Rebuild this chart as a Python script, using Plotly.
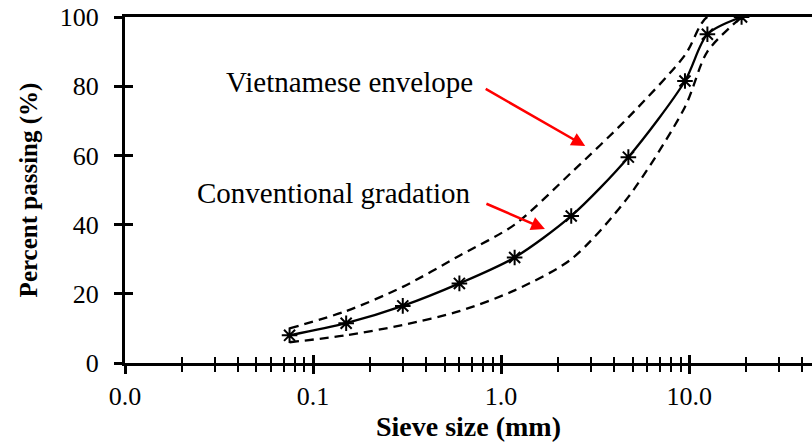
import math
import plotly.graph_objects as go

# Sieve sizes (mm) and percent passing
sieve_mm = [0.075, 0.15, 0.3, 0.6, 1.18, 2.36, 4.75, 9.5, 12.5, 19]
conventional = [8, 11.5, 16.5, 23, 30.5, 42.5, 59.5, 81.5, 95, 100]
upper_env = [10, 15, 22, 31, 40, 55, 71, 89, 100, 100]
lower_env = [6, 8, 11, 15, 21, 30, 48, 74, 90, 100]

# Axis ticks
x_major = [0.01, 0.1, 1, 10]
x_major_text = ["0.0", "0.1", "1.0", "10.0"]
x_minor = [m * d for d in [0.01, 0.1, 1, 10] for m in range(2, 10)]
y_ticks = [0, 20, 40, 60, 80, 100]

X_MIN, X_MAX = 0.01, 45
xr = [math.log10(X_MIN), math.log10(X_MAX)]
yr = [0, 100]

SERIF = "Liberation Serif"

fig = go.Figure()

line_style = dict(color="black", width=2.3, shape="spline", smoothing=0.8)

fig.add_trace(go.Scatter(x=sieve_mm, y=upper_env, mode="lines",
                         line=dict(dash="9px,6px", **line_style), showlegend=False))
fig.add_trace(go.Scatter(x=sieve_mm, y=lower_env, mode="lines",
                         line=dict(dash="9px,6px", **line_style), showlegend=False))
fig.add_trace(go.Scatter(x=sieve_mm, y=conventional, mode="lines+markers",
                         line=line_style,
                         marker=dict(symbol="asterisk-open", size=13, color="black",
                                     line=dict(color="black", width=2)),
                         showlegend=False))
# hidden trace so the overlay axes (inner half of the crossing ticks) render
fig.add_trace(go.Scatter(x=[X_MIN], y=[0], xaxis="x2", yaxis="y2", mode="markers",
                         marker=dict(opacity=0), showlegend=False, hoverinfo="skip"))

tick_font = dict(family=SERIF, size=26, color="black")

fig.update_layout(
    width=812, height=447,
    margin=dict(l=125, r=0, t=17, b=84),
    paper_bgcolor="white", plot_bgcolor="white",
    xaxis=dict(
        type="log", range=xr, showgrid=False, zeroline=False,
        showline=True, linecolor="black", linewidth=3, mirror=True,
        tickmode="array", tickvals=x_major, ticktext=x_major_text,
        ticks="outside", ticklen=8, tickwidth=3, tickcolor="black",
        minor=dict(tickmode="array", tickvals=x_minor, ticks="outside",
                   ticklen=6, tickwidth=2, tickcolor="black", showgrid=False),
        tickfont=tick_font,
        title=dict(text="<b>Sieve size (mm)</b>",
                   font=dict(family=SERIF, size=28, color="black"), standoff=4),
    ),
    yaxis=dict(
        range=yr, showgrid=False, zeroline=False,
        showline=True, linecolor="black", linewidth=3,
        tickmode="array", tickvals=y_ticks,
        ticks="outside", ticklen=8, tickwidth=2.5, tickcolor="black",
        ticklabelstandoff=10,
        tickfont=tick_font,
        title=dict(text="<b>Percent passing (%)</b>",
                   font=dict(family=SERIF, size=25, color="black"), standoff=16),
    ),
    xaxis2=dict(
        type="log", range=xr, overlaying="x", anchor="y2", side="bottom",
        showgrid=False, zeroline=False, showline=False, showticklabels=False,
        tickmode="array", tickvals=x_major,
        ticks="inside", ticklen=8, tickwidth=3, tickcolor="black",
        minor=dict(tickmode="array", tickvals=x_minor, ticks="inside",
                   ticklen=6, tickwidth=2, tickcolor="black", showgrid=False),
    ),
    yaxis2=dict(
        range=yr, overlaying="y", anchor="x2", side="left",
        showgrid=False, zeroline=False, showline=False, showticklabels=False,
        tickmode="array", tickvals=y_ticks,
        ticks="inside", ticklen=8, tickwidth=2.5, tickcolor="black",
    ),
)

label_font = dict(family=SERIF, size=29, color="black")

fig.add_annotation(x=math.log10(0.73), y=81.2, text="Vietnamese envelope",
                   showarrow=False, xanchor="right", yanchor="middle", font=label_font)
fig.add_annotation(x=math.log10(0.71), y=49.1, text="Conventional gradation",
                   showarrow=False, xanchor="right", yanchor="middle", font=label_font)

arrow_style = dict(text="", showarrow=True, arrowhead=2, arrowsize=1.1,
                   arrowwidth=2.5, arrowcolor="red", axref="pixel", ayref="pixel")
fig.add_annotation(x=math.log10(2.8), y=62.7, ax=-101, ay=-58, **arrow_style)
fig.add_annotation(x=math.log10(1.71), y=38.7, ax=-60, ay=-26, **arrow_style)

fig.write_html("out.html")
